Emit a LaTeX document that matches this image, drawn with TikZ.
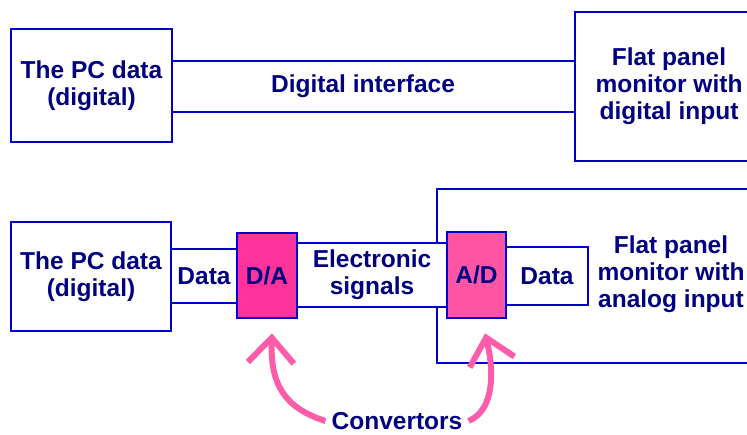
\documentclass[tikz,border=0pt]{standalone}
\usepackage{fontspec}
\setmainfont{Liberation Sans}
\usetikzlibrary{arrows.meta}

\definecolor{linkblue}{RGB}{0,0,204}
\definecolor{textnavy}{RGB}{0,0,128}
\definecolor{dapink}{RGB}{255,51,153}
\definecolor{adpink}{RGB}{255,85,165}
\definecolor{arrowpink}{RGB}{255,92,170}

\begin{document}
\begin{tikzpicture}[x=1pt, y=-1pt,
	every node/.style={font=\fontsize{24.5}{27}\selectfont\bfseries, text=textnavy, align=center, inner sep=0pt},
	block/.style={rectangle, draw=linkblue, line width=2.8pt, fill=white},
	convbox/.style={block, fill=#1},
	convarrow/.style={arrowpink, line width=6pt, -{Straight Barb[length=25pt, width=46pt]}}]

	\useasboundingbox (0,0) rectangle (747,434);

	% upper row: the PC talks digitally to the monitor
	\node[block, minimum width=410pt, minimum height=51pt] (digif) at (375,86.5) {};
	\node (digiflabel) at (363,86.5) {Digital interface};
	\node[block, minimum width=161pt, minimum height=113pt] (pctop) at (91.5,85.5) {The PC data\\(digital)};
	\node[block, minimum width=188pt, minimum height=149pt] (montop) at (669,86.5) {Flat panel\\monitor with\\digital input};

	% lower row: analog monitor, with a convertor at each end of the link
	\node[block, minimum width=343pt, minimum height=174pt] (monbot) at (608.5,276) {};
	\node (monbotlabel) at (671,274) {Flat panel\\monitor with\\analog input};
	\node[block, minimum width=160pt, minimum height=64pt] (elec) at (372,275) {Electronic\\signals};
	\node[block, minimum width=76pt, minimum height=54pt] (datal) at (204,276) {Data};
	\node[block, minimum width=82pt, minimum height=58pt] (datar) at (547,276) {Data};
	\node[block, minimum width=160pt, minimum height=109pt] (pcbot) at (91,276.5) {The PC data\\(digital)};
	\node[convbox=dapink, minimum width=60pt, minimum height=85pt] (da) at (267,275.5) {D/A};
	\node[convbox=adpink, minimum width=59pt, minimum height=86pt] (ad) at (476.5,275) {A/D};

	% pointing at the convertors
	\node[inner sep=6pt] (conv) at (397,421) {Convertors};
	\draw[convarrow] (conv.west) .. controls (285,408) and (270,385) .. ([xshift=5pt,yshift=-14pt]da.south);
	\draw[convarrow] (conv.east) .. controls (495,410) and (494,370) .. ([xshift=8.5pt,yshift=-14pt]ad.south);

\end{tikzpicture}
\end{document}
